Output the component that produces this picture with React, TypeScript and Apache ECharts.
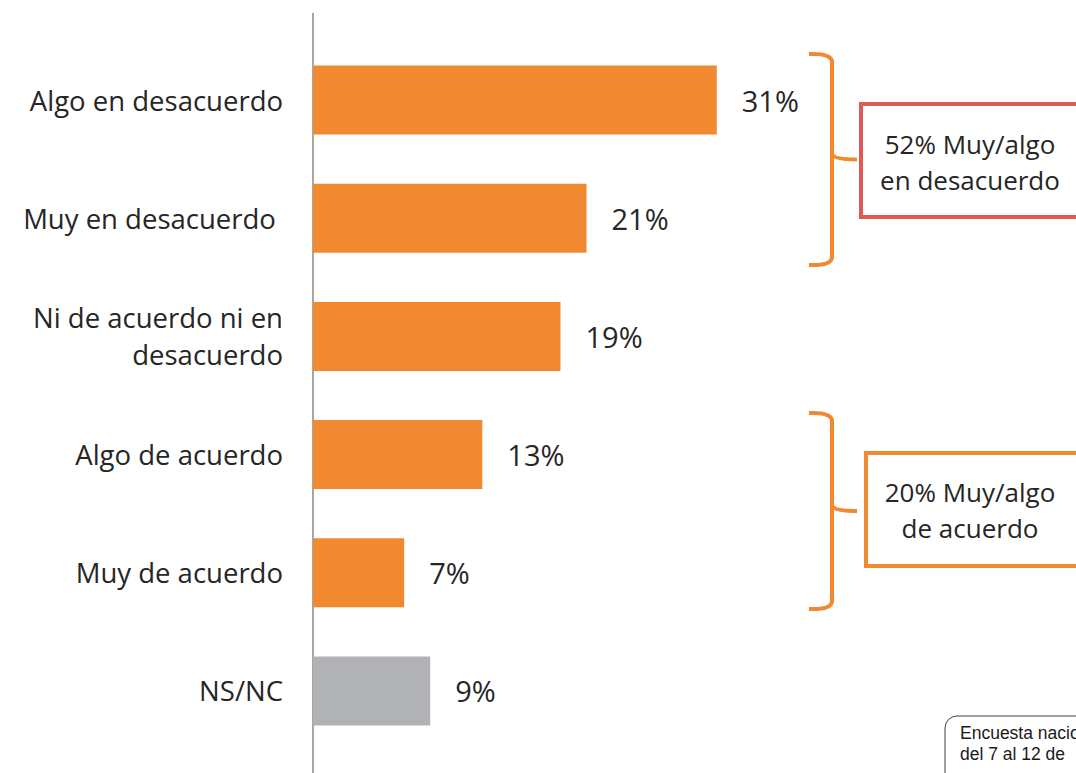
import React, { useEffect, useRef } from "react";
import * as echarts from "echarts";

const categories = [
  "Algo en desacuerdo",
  "Muy en desacuerdo ",
  "Ni de acuerdo ni en\ndesacuerdo",
  "Algo de acuerdo",
  "Muy de acuerdo",
  "NS/NC",
];
const values = [31, 21, 19, 13, 7, 9];
const barColors = ["#F0892F", "#F0892F", "#F0892F", "#F0892F", "#F0892F", "#B1B2B6"];
const groupLabels = ["52% Muy/algo\nen desacuerdo", "20% Muy/algo\nde acuerdo"];
const noteLines = ["Encuesta nacional", "del 7 al 12 de"];

const FONT = "'Open Sans', sans-serif";

function makeBrace(h: number) {
  const m = h / 2;
  return echarts.graphic.extendPath(
    `M0 1 Q21 0 23 8 L23 ${m - 6} Q24 ${m} 48 ${m} M23 ${m - 6} L23 ${h - 8} Q21 ${h} 0 ${h - 1}`,
    {}
  );
}
echarts.graphic.registerShape("braceA", makeBrace(213) as any);
echarts.graphic.registerShape("braceB", makeBrace(198) as any);

export default function App() {
  const ref = useRef<HTMLDivElement>(null);
  useEffect(() => {
    document.body.style.margin = "0";
    const chart = echarts.init(ref.current!, null, { renderer: "svg" });
    chart.setOption({
      animation: false,
      backgroundColor: "#ffffff",
      grid: { left: 313, top: 41, bottom: 23, width: 521, containLabel: false },
      xAxis: {
        type: "value",
        min: 0,
        max: 40,
        show: false,
      },
      yAxis: {
        type: "category",
        inverse: true,
        data: categories,
        axisLine: { show: false },
        axisTick: { show: false },
        axisLabel: {
          margin: 30,
          fontFamily: FONT,
          fontSize: 27.5,
          color: "#262626",
          align: "right",
          lineHeight: 37,
        },
      },
      series: [
        {
          type: "bar",
          barWidth: 69,
          data: values.map((v, i) => ({ value: v, itemStyle: { color: barColors[i] } })),
          label: {
            show: true,
            position: "right",
            distance: 25,
            formatter: "{c}%",
            fontFamily: FONT,
            fontSize: 29,
            color: "#262626",
          },
        },
      ],
      graphic: [
        {
          type: "line",
          shape: { x1: 313, y1: 13, x2: 313, y2: 773 },
          style: { stroke: "#A6A6A6", lineWidth: 2 },
        },
        {
          type: "braceA",
          x: 809,
          y: 53,
          style: { stroke: "#F0892F", fill: "none", lineWidth: 4 },
        },
        {
          type: "braceB",
          x: 809,
          y: 412,
          style: { stroke: "#F0892F", fill: "none", lineWidth: 4 },
        },
        {
          type: "rect",
          shape: { x: 861, y: 104, width: 240, height: 113 },
          style: { stroke: "#DE5B55", fill: "#ffffff", lineWidth: 4 },
        },
        {
          type: "text",
          x: 970,
          y: 162,
          style: {
            text: groupLabels[0],
            fontFamily: FONT,
            fontSize: 26,
            lineHeight: 36,
            fill: "#262626",
            align: "center",
            verticalAlign: "middle",
          },
        },
        {
          type: "rect",
          shape: { x: 866, y: 453, width: 240, height: 113 },
          style: { stroke: "#F0892F", fill: "#ffffff", lineWidth: 4 },
        },
        {
          type: "text",
          x: 970,
          y: 510,
          style: {
            text: groupLabels[1],
            fontFamily: FONT,
            fontSize: 26,
            lineHeight: 36,
            fill: "#262626",
            align: "center",
            verticalAlign: "middle",
          },
        },
        {
          type: "rect",
          shape: { x: 945, y: 716, width: 200, height: 80, r: 12 },
          style: { stroke: "#404040", fill: "#ffffff", lineWidth: 1 },
        },
        {
          type: "text",
          x: 960,
          y: 743,
          style: {
            text: noteLines.join("\n"),
            fontFamily: "'Liberation Sans', Arial, sans-serif",
            fontSize: 17.5,
            lineHeight: 21,
            fill: "#1a1a1a",
            align: "left",
            verticalAlign: "middle",
          },
        },
      ],
    });
    return () => chart.dispose();
  }, []);
  return (
    <div
      ref={ref}
      style={{ position: "fixed", left: 0, top: 0, width: 1076, height: 773 }}
    />
  );
}
